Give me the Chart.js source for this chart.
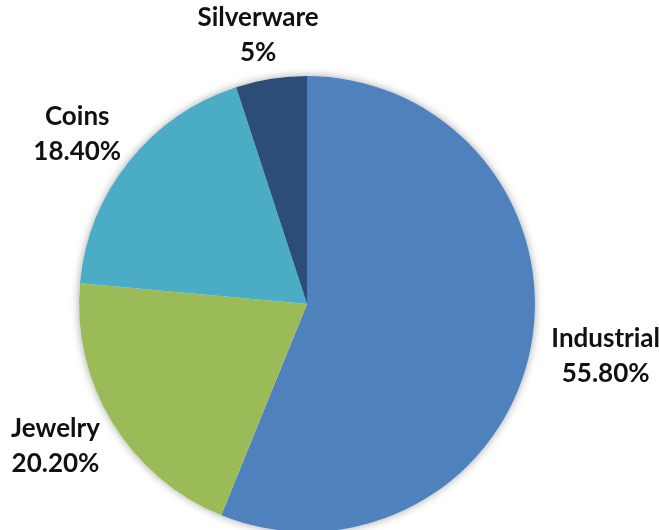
<!DOCTYPE html>
<html>
<head>
<meta charset="utf-8">
<script src="https://cdn.jsdelivr.net/npm/chart.js@4/dist/chart.umd.min.js"></script>
<style>
  html, body { margin: 0; padding: 0; background: #fff; overflow: hidden; }
</style>
</head>
<body>
<canvas id="silverChart" width="659" height="540"></canvas>
<script>
// Silver demand by use
const categories = ['Industrial', 'Jewelry', 'Coins', 'Silverware'];
const shares = [55.8, 20.2, 18.4, 5];
const shareLabels = ['55.80%', '20.20%', '18.40%', '5%'];
const sliceColors = ['#4F81BD', '#9BBB59', '#4BACC6', '#2C4D75'];

const labelFont = 'bold 26px Lato';
const lineGap = 35;

// soft shadow under the whole pie
const pieShadow = {
  id: 'pieShadow',
  beforeDatasetsDraw(chart) {
    const arc = chart.getDatasetMeta(0).data[0];
    const { x, y, outerRadius } = arc.getProps(['x', 'y', 'outerRadius'], true);
    const c = chart.ctx;
    c.save();
    c.shadowColor = 'rgba(0,0,0,0.35)';
    c.shadowBlur = 9;
    c.beginPath();
    c.arc(x, y, outerRadius, 0, Math.PI * 2);
    c.fillStyle = '#fff';
    c.fill();
    c.restore();
  }
};

// category + percent outside each slice
const outsideLabels = {
  id: 'outsideLabels',
  afterDatasetsDraw(chart) {
    const c = chart.ctx;
    c.save();
    c.font = labelFont;
    c.fillStyle = '#111';
    c.textAlign = 'center';
    c.textBaseline = 'middle';
    chart.getDatasetMeta(0).data.forEach((arc, i) => {
      const p = arc.getProps(['x', 'y', 'startAngle', 'endAngle', 'outerRadius'], true);
      const mid = (p.startAngle + p.endAngle) / 2;
      const dx = Math.cos(mid), dy = Math.sin(mid);
      const w = Math.max(c.measureText(categories[i]).width, c.measureText(shareLabels[i]).width);
      const h = lineGap + 10;
      const r = p.outerRadius + 22;
      const cx = p.x + dx * r + dx * w / 2;
      const cy = p.y + dy * r + dy * h / 2;
      c.fillText(categories[i], cx, cy - lineGap / 2);
      c.fillText(shareLabels[i], cx, cy + lineGap / 2);
    });
    c.restore();
  }
};

new Chart(document.getElementById('silverChart'), {
  type: 'pie',
  data: {
    labels: categories,
    datasets: [{
      data: shares,
      backgroundColor: sliceColors,
      borderWidth: 0,
      hoverOffset: 0
    }]
  },
  options: {
    responsive: false,
    animation: false,
    layout: { padding: { left: 79, right: 124, top: 76, bottom: 8 } },
    plugins: {
      legend: { display: false },
      tooltip: { enabled: false }
    }
  },
  plugins: [pieShadow, outsideLabels]
});
</script>
</body>
</html>
